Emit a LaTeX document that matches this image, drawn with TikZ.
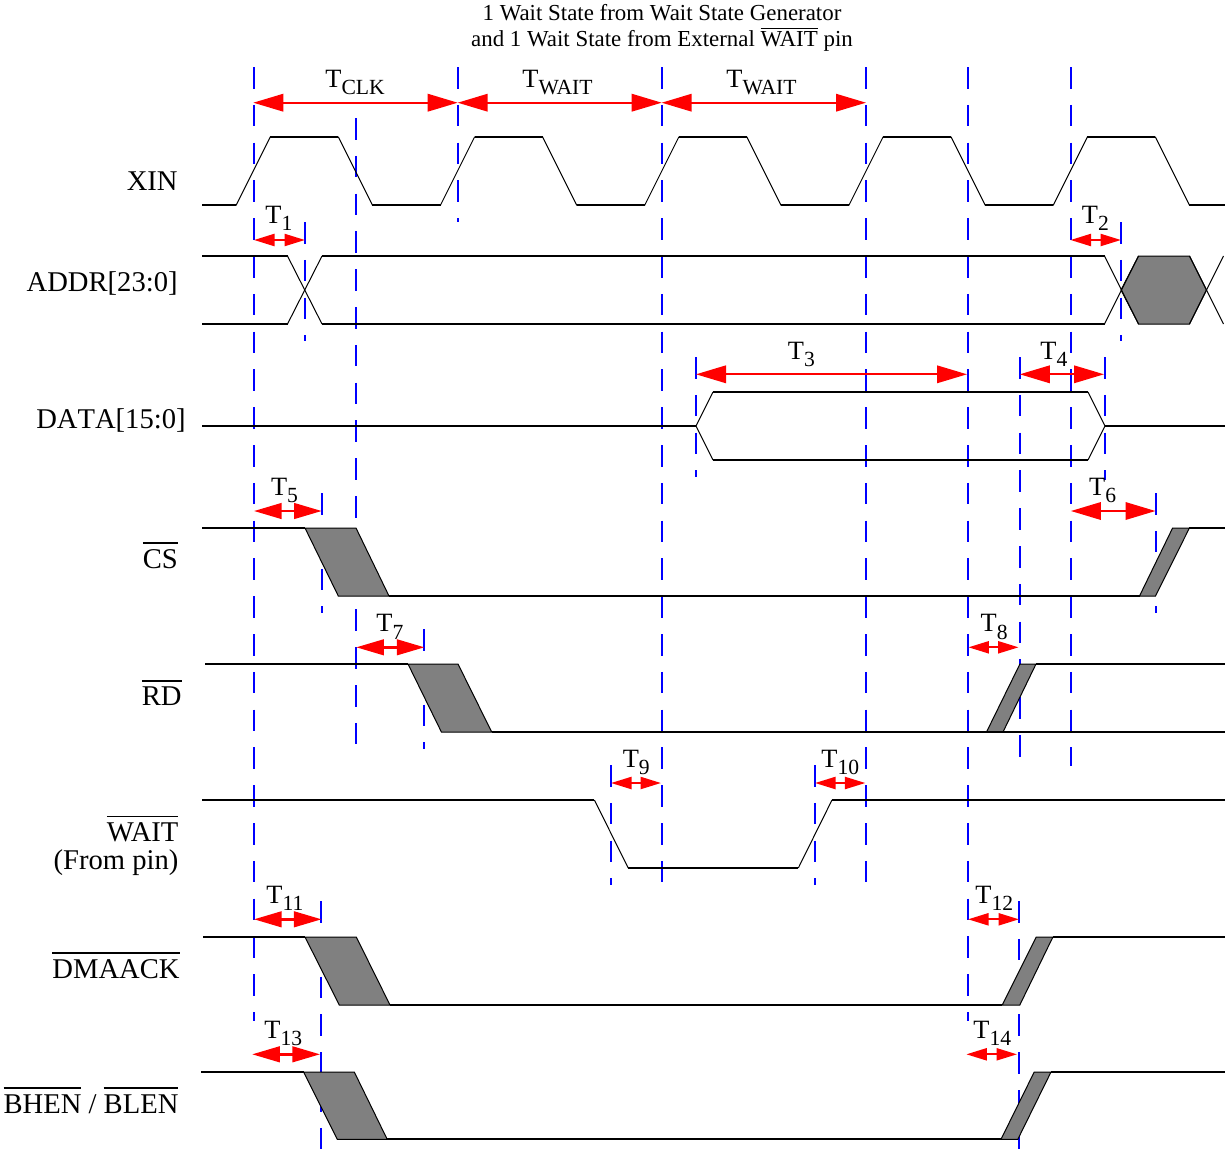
\documentclass[tikz,border=0pt]{standalone}
\usepackage{fontspec}
\setmainfont{Liberation Serif}
\usetikzlibrary{arrows.meta}
\definecolor{shadegray}{RGB}{128,128,128}
\newcommand\ovl[3]{\vbox{\hrule height #1\kern #2\hbox{#3}}}
\newcommand\Tlab[1]{T\raisebox{-3.8pt}{\fontsize{10.8}{12}\selectfont #1}}
\begin{document}
\begin{tikzpicture}[x=0.5pt,y=-0.5pt,
  lvl/.style={line width=1pt},
  diag/.style={line width=0.5pt},
  grayfill/.style={fill=shadegray,draw=black,line width=0.5pt},
  guide/.style={blue,line width=1pt,dash pattern=on 10.75pt off 8.15pt},
  tarr/.style={red,line width=0.9pt},
  arrbig/.style={tarr,{Triangle[length=15pt,width=8.75pt]}-{Triangle[length=15pt,width=8.75pt]}},
  arrmed/.style={tarr,line width=1.2pt,{Triangle[length=13.8pt,width=7.8pt]}-{Triangle[length=13.8pt,width=7.8pt]}},
  arrsml/.style={tarr,line width=1.1pt,{Triangle[length=10.25pt,width=6pt]}-{Triangle[length=10.25pt,width=6pt]}},
  sig/.style={font=\fontsize{14.3}{16}\selectfont,inner sep=0pt,anchor=base east},
  tl/.style={font=\fontsize{13.2}{15}\selectfont,inner sep=0pt,anchor=base west},
  ttl/.style={font=\fontsize{11.45}{13}\selectfont,inner sep=0pt,anchor=base},
]
\useasboundingbox (0,0) rectangle (1225,1157);

% ---------- title ----------
\node[ttl] (title1) at (662,20.7) {1 Wait State from Wait State Generator};
\node[ttl] (title2) at (662,46.7) {and 1 Wait State from External \ovl{0.7pt}{1.3pt}{WAIT} pin};

% ---------- guide lines ----------
\draw[guide] (254,67) -- (254,1021);
\draw[guide] (355.7,118) -- (355.7,749);
\draw[guide] (457.7,67) -- (457.7,222);
\draw[guide] (661.7,67) -- (661.7,885);
\draw[guide] (866,67) -- (866,885);
\draw[guide] (968,67) -- (968,1021);
\draw[guide] (1070.5,67) -- (1070.5,766);
\draw[guide] (305,222) -- (305,341);
\draw[guide] (1121,222) -- (1121,341);
\draw[guide] (696,357) -- (696,477);
\draw[guide] (1019.5,357) -- (1019.5,767);
\draw[guide] (1104.8,357) -- (1104.8,480);
\draw[guide] (1155.5,493) -- (1155.5,613);
\draw[guide] (321.7,493) -- (321.7,613);
\draw[guide] (424.4,629) -- (424.4,749);
\draw[guide] (611,765) -- (611,885);
\draw[guide] (815,765) -- (815,885);
\draw[guide] (321,901) -- (321,1157);
\draw[guide] (1019,901) -- (1019,1157);

% ---------- XIN ----------
\draw[diag] (202,205) -- (236.3,205) -- (270.3,137) -- (338.4,137) -- (372.4,205)
  -- (440.55,205) -- (474.55,137) -- (542.65,137) -- (576.65,205)
  -- (644.8,205) -- (678.8,137) -- (746.9,137) -- (780.9,205)
  -- (849.05,205) -- (883.05,137) -- (951.15,137) -- (985.15,205)
  -- (1053.3,205) -- (1087.3,137) -- (1155.4,137) -- (1189.4,205) -- (1225,205);
\draw[lvl] (202,205) -- (236.3,205);
\draw[lvl] (270.3,137) -- (338.4,137);
\draw[lvl] (372.4,205) -- (440.55,205);
\draw[lvl] (474.55,137) -- (542.65,137);
\draw[lvl] (576.65,205) -- (644.8,205);
\draw[lvl] (678.8,137) -- (746.9,137);
\draw[lvl] (780.9,205) -- (849.05,205);
\draw[lvl] (883.05,137) -- (951.15,137);
\draw[lvl] (985.15,205) -- (1053.3,205);
\draw[lvl] (1087.3,137) -- (1155.4,137);
\draw[lvl] (1189.4,205) -- (1225,205);

% ---------- ADDR ----------
\draw[grayfill] (1121,290) -- (1138.5,256) -- (1189.5,256) -- (1206.5,290) -- (1189.5,324) -- (1138.5,324) -- cycle;
\draw[diag] (287.5,256) -- (322,324);
\draw[diag] (287.5,324) -- (322,256);
\draw[diag] (1104.5,256) -- (1138.5,324);
\draw[diag] (1104.5,324) -- (1138.5,256);
\draw[diag] (1189.5,256) -- (1223.5,324);
\draw[diag] (1189.5,324) -- (1223.5,256);
\draw[lvl] (202,256) -- (287.5,256);
\draw[lvl] (202,324) -- (287.5,324);
\draw[lvl] (322,256) -- (1104.5,256);
\draw[lvl] (322,324) -- (1104.5,324);

% ---------- DATA ----------
\draw[diag] (713,392) -- (696,426) -- (713,460);
\draw[diag] (1088,392) -- (1105,426) -- (1088,460);
\draw[lvl] (202,426) -- (696,426);
\draw[lvl] (713,392) -- (1088,392);
\draw[lvl] (713,460) -- (1088,460);
\draw[lvl] (1105,426) -- (1225,426);

% ---------- CS ----------
\draw[grayfill] (305,528) -- (356,528) -- (389,596) -- (338.3,596) -- cycle;
\draw[grayfill] (1139.5,596) -- (1155.5,596) -- (1189.4,528) -- (1172.6,528) -- cycle;
\draw[lvl] (202,528) -- (305,528);
\draw[lvl] (389,596) -- (1139.5,596);
\draw[lvl] (1189.4,528) -- (1225,528);

% ---------- RD ----------
\draw[grayfill] (408,664) -- (458,664) -- (491.7,732) -- (441.4,732) -- cycle;
\draw[grayfill] (986.5,732) -- (1003,732) -- (1036,664) -- (1019.9,664) -- cycle;
\draw[lvl] (205,664) -- (408,664);
\draw[lvl] (491.7,732) -- (1225,732);
\draw[lvl] (1036,664) -- (1225,664);

% ---------- WAIT ----------
\draw[diag] (594.4,800) -- (628.2,868);
\draw[diag] (798.3,868) -- (832,800);
\draw[lvl] (202,800) -- (594.4,800);
\draw[lvl] (628.2,868) -- (798.3,868);
\draw[lvl] (832,800) -- (1225,800);

% ---------- DMAACK ----------
\draw[grayfill] (305,937) -- (356.3,937) -- (390,1005) -- (339.3,1005) -- cycle;
\draw[grayfill] (1002.2,1005) -- (1019.8,1005) -- (1052.9,937) -- (1036.2,937) -- cycle;
\draw[lvl] (203,937) -- (305,937);
\draw[lvl] (390,1005) -- (1002.2,1005);
\draw[lvl] (1052.9,937) -- (1225,937);

% ---------- BHEN / BLEN ----------
\draw[grayfill] (303.6,1072) -- (354.3,1072) -- (387.2,1139.3) -- (337.3,1139.3) -- cycle;
\draw[grayfill] (1001,1139.3) -- (1017.8,1139.3) -- (1051,1072) -- (1034.2,1072) -- cycle;
\draw[lvl] (201,1072) -- (303.6,1072);
\draw[lvl] (387.2,1139.3) -- (1001,1139.3);
\draw[lvl] (1051,1072) -- (1225,1072);

% ---------- timing arrows ----------
\draw[arrbig] (253.3,102.7) -- (457.7,102.7);
\draw[arrbig] (457.7,102.7) -- (661.7,102.7);
\draw[arrbig] (661.7,102.7) -- (866,102.7);
\draw[arrsml] (254,240) -- (305,240);
\draw[arrsml] (1070.5,240) -- (1121,240);
\draw[arrbig] (696,374.3) -- (967,374.3);
\draw[arrbig] (1019.8,374.3) -- (1104,374.3);
\draw[arrmed] (254,511) -- (321.7,511);
\draw[arrbig] (1070.9,511) -- (1155.5,511);
\draw[arrmed] (356.3,647.3) -- (424.4,647.3);
\draw[arrsml] (968.4,647.3) -- (1018.6,647.3);
\draw[arrsml] (611,783) -- (661,783);
\draw[arrsml] (815,783) -- (865.4,783);
\draw[arrmed] (254,919.3) -- (321.5,919.3);
\draw[arrsml] (968,919.3) -- (1019,919.3);
\draw[arrmed] (252.2,1054.3) -- (320,1054.3);
\draw[arrsml] (966.3,1054.3) -- (1017,1054.3);

% ---------- timing labels ----------
\node[tl] (lclk) at (325,87) {\Tlab{CLK}};
\node[tl] (lwait1) at (522,87) {\Tlab{WAIT}};
\node[tl] (lwait2) at (726,87) {\Tlab{WAIT}};
\node[tl] (l1) at (265,223) {\Tlab{1}};
\node[tl] (l2) at (1081.5,223) {\Tlab{2}};
\node[tl] (l3) at (787.5,359) {\Tlab{3}};
\node[tl] (l4) at (1040,359) {\Tlab{4}};
\node[tl] (l5) at (270.7,495) {\Tlab{5}};
\node[tl] (l6) at (1088.8,495) {\Tlab{6}};
\node[tl] (l7) at (376,631.7) {\Tlab{7}};
\node[tl] (l8) at (980.3,631.7) {\Tlab{8}};
\node[tl] (l9) at (622.4,767.3) {\Tlab{9}};
\node[tl] (l10) at (821,767.3) {\Tlab{10}};
\node[tl] (l11) at (266,903.3) {\Tlab{11}};
\node[tl] (l12) at (975,903.3) {\Tlab{12}};
\node[tl] (l13) at (264,1038.3) {\Tlab{13}};
\node[tl] (l14) at (973,1038.3) {\Tlab{14}};

% ---------- signal names ----------
\node[sig] (xin) at (178,190) {XIN};
\node[sig] (addr) at (178,291.7) {ADDR[23:0]};
\node[sig] (data) at (186,428.3) {\addfontfeatures{Kerning=Off}DATA[15:0]};
\node[sig] (cs) at (178.3,568.3) {\ovl{0.9pt}{2.7pt}{CS}};
\node[sig] (rd) at (182,705.7) {\ovl{0.9pt}{2.7pt}{RD}};
\node[sig] (wait) at (178.8,841.7) {\ovl{0.9pt}{2.7pt}{WAIT}};
\node[sig] (frompin) at (178.8,869.3) {(From pin)};
\node[sig] (dmaack) at (180,978.3) {\ovl{0.9pt}{2.7pt}{DMAACK}};
\node[sig] (bhen) at (178.8,1113.3) {\ovl{0.9pt}{2.7pt}{BHEN} / \ovl{0.9pt}{2.7pt}{BLEN}};
\end{tikzpicture}
\end{document}
